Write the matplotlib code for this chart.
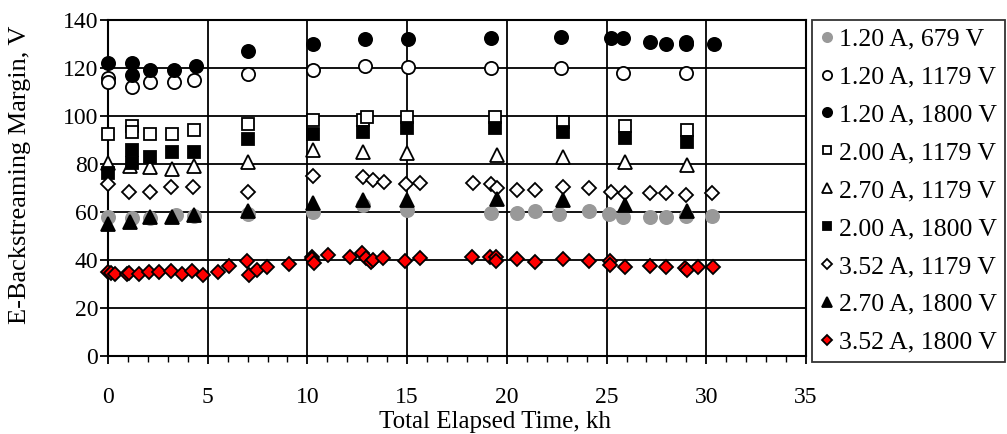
import matplotlib
matplotlib.use("Agg")
import matplotlib.pyplot as plt
from matplotlib.ticker import MultipleLocator

plt.rcParams['font.family'] = ['Liberation Serif', 'DejaVu Serif']

# 1.20 A, 679 V
t_120_679 = [0, 1.2, 2.1, 3.4, 4.3, 7.0, 10.3, 12.8, 15.0, 19.2, 20.5, 21.4, 22.6, 24.1, 25.1, 25.8, 27.2, 28.0, 29.0, 30.3]
v_120_679 = [58, 57.5, 57.5, 58.8, 58.3, 59.2, 60, 63, 61, 59.6, 59.6, 60.4, 59.2, 60.4, 59.2, 57.9, 57.9, 57.9, 58.3, 58.3]

# 1.20 A, 1179 V
t_120_1179 = [0, 0, 1.2, 2.1, 3.3, 4.3, 7.0, 10.3, 12.9, 15.05, 19.2, 22.7, 25.8, 29.0]
v_120_1179 = [116, 114, 112, 114, 114, 115, 117.5, 119, 121, 120.5, 120, 120, 118, 118]

# 1.20 A, 1800 V
t_120_1800 = [0, 1.2, 1.2, 2.1, 3.3, 4.4, 7.0, 10.3, 12.9, 15.05, 19.2, 22.7, 25.2, 25.8, 27.2, 28.0, 29.0, 29.0, 30.4]
v_120_1800 = [122, 122, 117, 119, 119, 121, 127, 130, 132, 132, 132.5, 133, 132.5, 132.5, 131, 130, 131, 130, 130]

# 2.00 A, 1179 V
t_200_1179 = [0, 1.2, 1.2, 2.1, 3.2, 4.3, 7.0, 10.3, 12.8, 13.0, 15.0, 19.4, 22.8, 25.9, 29.05]
v_200_1179 = [92.5, 96, 93.5, 92.5, 92.5, 94, 96.7, 98.3, 98.3, 99.7, 99.5, 99.7, 97.6, 95.8, 94.2]

# 2.70 A, 1179 V
t_270_1179 = [0, 1.1, 2.1, 3.2, 4.3, 7.0, 10.3, 12.8, 15.0, 19.5, 22.8, 25.9, 29.05]
v_270_1179 = [80.4, 79, 78.8, 77.9, 79.2, 80.8, 86, 85, 84.6, 83.8, 83, 80.8, 79.6]

# 2.00 A, 1800 V
t_200_1800 = [0, 1.2, 1.2, 2.1, 3.2, 4.3, 7.0, 10.3, 12.8, 15.0, 19.4, 22.8, 25.9, 29.05]
v_200_1800 = [76.3, 86, 80.4, 83, 85, 85, 90.4, 92.5, 93.3, 95, 95, 93.3, 90.8, 89.2]

# 3.52 A, 1179 V
t_352_1179 = [0, 1.05, 2.1, 3.15, 4.25, 7.0, 10.3, 12.8, 13.3, 13.85, 14.95, 15.65, 18.3, 19.2, 19.5,
              20.5, 21.4, 22.8, 24.1, 25.2, 25.9, 27.2, 28.0, 29.0, 30.3]
v_352_1179 = [71.7, 68.3, 68.3, 70.4, 70.4, 68.3, 75, 74.6, 73.3, 72.5, 71.7, 72, 72, 71.7, 70,
              69, 69, 70.4, 70, 68.3, 67.9, 68, 68, 67, 67.9]

# 2.70 A, 1800 V
t_270_1800 = [0, 1.1, 2.1, 3.2, 4.3, 7.0, 10.3, 12.8, 15.0, 19.5, 22.8, 25.9, 29.05]
v_270_1800 = [55, 56, 58, 58, 58.8, 60.4, 63.8, 65, 65, 65.4, 65, 63, 60.4]

# 3.52 A, 1800 V
t_352_1800 = [0, 0.15, 0.35, 0.95, 1.05, 1.55, 2.06, 2.56, 3.16, 3.71, 4.21, 4.77, 5.52, 6.07, 6.97, 7.07,
              7.48, 7.98, 9.08, 10.24, 10.24, 10.34, 11.04, 12.14, 12.74, 12.95, 13.2, 13.3, 13.8, 14.9,
              15.65, 18.26, 19.17, 19.47, 19.47, 20.5, 21.4, 22.83, 24.13, 25.19, 25.19, 25.94, 27.2,
              28.0, 28.95, 29.05, 29.6, 30.36]
v_352_1800 = [35, 34.5, 34, 34, 34.5, 34, 35, 35, 35.4, 34, 35.4, 33.7, 35, 37.5, 39.6, 33.7,
              35.8, 37, 38.3, 41.3, 40.4, 38.8, 42, 41.3, 42.9, 40.8, 39.2, 40, 40.8, 39.6,
              40.8, 41.3, 41.3, 41.3, 39.6, 40.4, 39.2, 40.4, 39.6, 39.6, 37.9, 37.1, 37.5,
              37.1, 36.7, 35.8, 37.1, 37.1]

series = [
    ("1.20 A, 679 V", t_120_679, v_120_679, 'o', '#999999', '#999999', 9.5),
    ("1.20 A, 1179 V", t_120_1179, v_120_1179, 'o', 'white', 'black', 9.5),
    ("1.20 A, 1800 V", t_120_1800, v_120_1800, 'o', 'black', 'black', 9.5),
    ("2.00 A, 1179 V", t_200_1179, v_200_1179, 's', 'white', 'black', 8.5),
    ("2.70 A, 1179 V", t_270_1179, v_270_1179, '^', 'white', 'black', 9.5),
    ("2.00 A, 1800 V", t_200_1800, v_200_1800, 's', 'black', 'black', 8.5),
    ("3.52 A, 1179 V", t_352_1179, v_352_1179, 'D', 'white', 'black', 7),
    ("2.70 A, 1800 V", t_270_1800, v_270_1800, '^', 'black', 'black', 9.5),
    ("3.52 A, 1800 V", t_352_1800, v_352_1800, 'D', 'red', 'black', 7),
]

fig = plt.figure(figsize=(10.07, 4.34), dpi=100)
ax = fig.add_axes([108 / 1007, 78 / 434, 698 / 1007, 336 / 434])

for label, t, v, mk, fc, ec, ms in series:
    ax.plot(t, v, linestyle='none', marker=mk, markerfacecolor=fc, markeredgecolor=ec,
            markeredgewidth=1.3, markersize=ms, label=label, clip_on=False, zorder=3)

ax.set_xlim(0, 35)
ax.set_ylim(0, 140)
ax.xaxis.set_major_locator(MultipleLocator(5))
ax.xaxis.set_minor_locator(MultipleLocator(1))
ax.yaxis.set_major_locator(MultipleLocator(20))
ax.grid(True, which='major', color='black', linewidth=1.3)
ax.set_axisbelow(True)
for s in ax.spines.values():
    s.set_linewidth(1.5)
ax.tick_params(axis='x', which='major', direction='out', length=6, width=1.3, labelsize=17, pad=16)
ax.tick_params(axis='x', which='minor', direction='out', length=4, width=1.0)
ax.tick_params(axis='y', which='major', direction='out', length=6, width=1.3, labelsize=17, pad=1)

ax.set_xlabel("Total Elapsed Time, kh", fontsize=18)
ax.xaxis.set_label_coords(0.554, -0.163)
ax.set_ylabel("E-Backstreaming Margin, V", fontsize=19)
ax.yaxis.set_label_coords(-0.110, 0.539)

leg = fig.legend(loc='upper left', bbox_to_anchor=(812 / 1007, 1 - 20 / 434), fontsize=18.5,
                 frameon=True, fancybox=False, edgecolor='black', handlelength=0.6,
                 handletextpad=0.15, labelspacing=0.58, borderpad=0.3, borderaxespad=0,
                 markerscale=0.7)
leg.get_frame().set_linewidth(1.3)

plt.savefig("out.png", dpi=100)
plt.close()
